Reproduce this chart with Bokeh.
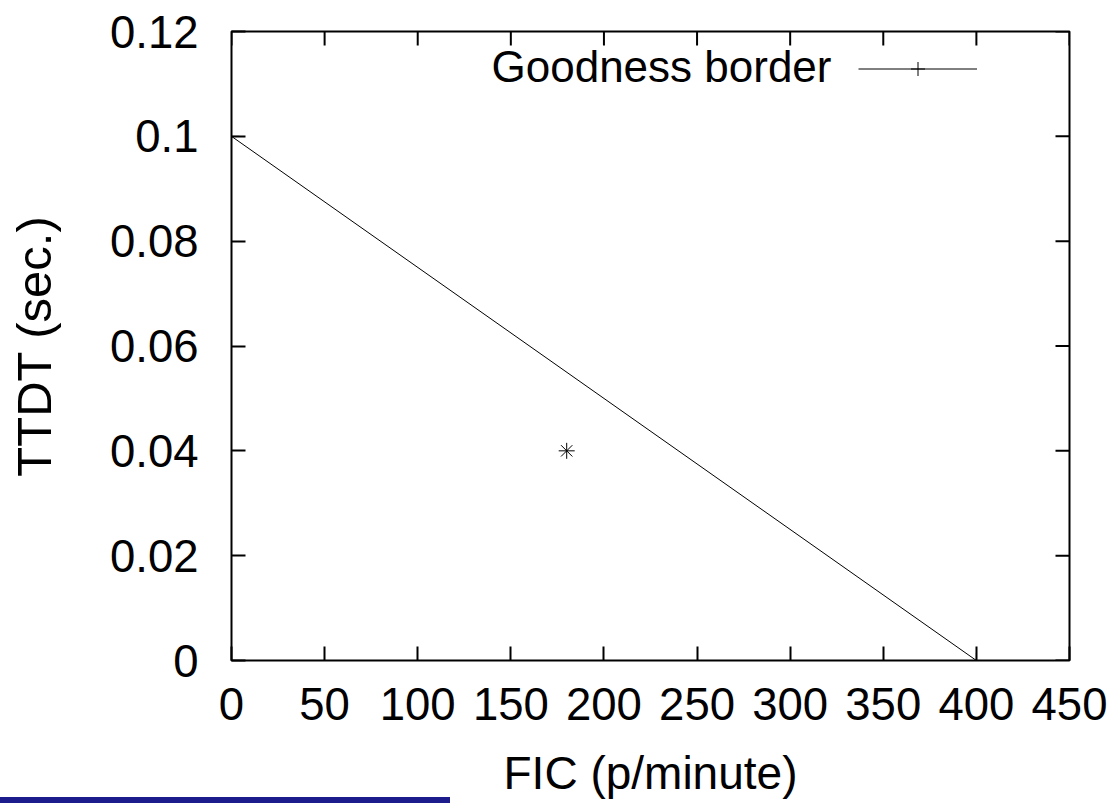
import math
from bokeh.plotting import figure
from bokeh.models import (Range1d, FixedTicker, Label, Legend, LegendItem,
                          CustomJSTickFormatter, Div, ColumnDataSource)
from bokeh.layouts import column
from bokeh.embed import file_html
from bokeh.resources import INLINE

# ---- data ----
border_fic = [0, 400]
border_ttdt = [0.1, 0.0]
point_fic = [180]
point_ttdt = [0.04]
x_ticks = [0, 50, 100, 150, 200, 250, 300, 350, 400, 450]
y_ticks = [0.0, 0.02, 0.04, 0.06, 0.08, 0.1, 0.12]
y_tick_labels = ["0", "0.02", "0.04", "0.06", "0.08", "0.1", "0.12"]
x_label = "FIC (p/minute)"
y_label = "TTDT (sec.)"
legend_label = "Goodness border"

FONT = "Liberation Sans"

p = figure(width=1113, height=803, output_backend="svg", toolbar_location=None,
           x_range=Range1d(x_ticks[0], x_ticks[-1]), y_range=Range1d(y_ticks[0], y_ticks[-1]),
           min_border_left=231, min_border_right=44, min_border_top=31, min_border_bottom=143,
           x_axis_label=x_label, y_axis_label=y_label)
p.grid.visible = False
p.outline_line_color = "black"
p.outline_line_width = 2
p.background_fill_color = "white"
p.border_fill_color = "white"

yfmt = CustomJSTickFormatter(args=dict(tvals=y_ticks, tlabels=y_tick_labels), code="""
let best = 0, bd = 1e9;
for (let i = 0; i < tvals.length; i++) { const d = Math.abs(tvals[i] - tick); if (d < bd) { bd = d; best = i; } }
return tlabels[best];
""")

def style_axis(ax):
    ax.axis_line_color = None
    ax.major_tick_in = 14
    ax.major_tick_out = 0
    ax.major_tick_line_width = 2
    ax.major_tick_line_color = "black"
    ax.minor_tick_line_color = None
    ax.major_label_text_font = FONT
    ax.major_label_text_color = "black"
    ax.major_label_text_font_size = "45.5px"
    ax.axis_label_text_font = FONT
    ax.axis_label_text_font_style = "normal"
    ax.axis_label_text_color = "black"

for ax in p.xaxis:
    ax.ticker = FixedTicker(ticks=x_ticks)
    style_axis(ax)
    ax.major_label_standoff = 27
    ax.axis_label_text_font_size = "46px"
    ax.axis_label_standoff = 24
for ax in p.yaxis:
    ax.ticker = FixedTicker(ticks=y_ticks)
    ax.formatter = yfmt
    style_axis(ax)
    ax.major_label_standoff = 33
    ax.axis_label_text_font_size = "49px"
    ax.axis_label_standoff = 46

# mirrored inward ticks on top and right edges (half of each dash is clipped by the frame)
p.scatter(x_ticks, [y_ticks[-1]] * len(x_ticks), marker="dash", angle=math.pi / 2,
          size=28, line_color="black", line_width=2)
p.scatter([x_ticks[-1]] * len(y_ticks), y_ticks, marker="dash",
          size=28, line_color="black", line_width=2)

src = ColumnDataSource(dict(x=border_fic, y=border_ttdt))
line_r = p.line("x", "y", source=src, line_color="black", line_width=1)
pts_r = p.scatter("x", "y", source=src, marker="cross", size=16, line_color="black", line_width=1)

p.scatter(point_fic, point_ttdt, marker="cross", size=16, line_color="black", line_width=1)
p.scatter(point_fic, point_ttdt, marker="x", size=16, line_color="black", line_width=1)

# legend: text on the left, sample on the right (gnuplot style)
p.add_layout(Label(x=260, y=594, x_units="screen", y_units="screen", text=legend_label,
                   text_font=FONT, text_font_size="44px", text_baseline="middle",
                   text_align="left", text_color="black"))
legend = Legend(items=[LegendItem(label=" ", renderers=[line_r, pts_r])],
                location=(627, 574.5), padding=0, margin=0, spacing=0,
                glyph_width=119, glyph_height=35, label_height=35, label_width=0,
                label_standoff=0, label_text_font_size="1px",
                border_line_color=None, background_fill_alpha=0)
p.add_layout(legend, "center")

bar = Div(text="", width=450, height=6, margin=(-6, 0, 0, 0),
          styles={"background-color": "#1c1c8c", "position": "relative", "z-index": "10"})

layout = column(p, bar, spacing=0)
open("out.html", "w").write(file_html(layout, INLINE))
